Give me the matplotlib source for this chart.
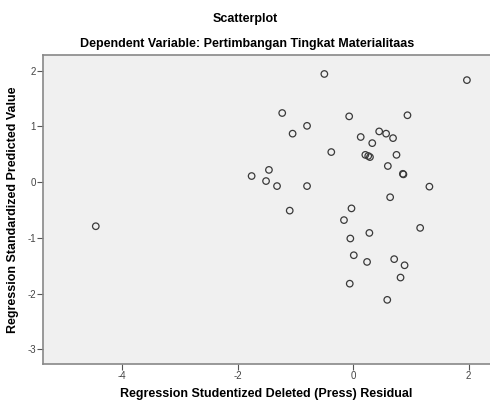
import matplotlib
matplotlib.use("Agg")
import matplotlib.pyplot as plt

residual = [-0.50, 1.97, -1.23, -0.07, 0.94, -0.80, -1.05, 0.45, 0.57, 0.69,
            0.13, 0.33, -0.38, 0.21, 0.26, 0.29, 0.75, 0.60, 0.86, 0.87,
            -1.46, -1.76, -1.51, -1.32, -0.80, 1.32, 0.64, -1.10, -0.03, -0.16,
            1.16, 0.28, -0.05, 0.01, 0.24, 0.71, 0.89, 0.82, -0.06, 0.59,
            -4.46]
predicted = [1.94, 1.83, 1.24, 1.18, 1.20, 1.01, 0.87, 0.91, 0.87, 0.79,
             0.81, 0.70, 0.54, 0.49, 0.47, 0.45, 0.49, 0.29, 0.15, 0.14,
             0.22, 0.11, 0.02, -0.07, -0.07, -0.08, -0.27, -0.51, -0.47, -0.68,
             -0.82, -0.91, -1.01, -1.31, -1.43, -1.38, -1.49, -1.71, -1.82, -2.11,
             -0.79]
xticks = [-4, -2, 0, 2]
yticks = [-3, -2, -1, 0, 1, 2]

plt.rcParams['font.family'] = ['Liberation Sans', 'DejaVu Sans']

fig = plt.figure(figsize=(4.9, 4.01), dpi=100)
ax = fig.add_axes([0.0871, 0.0923, 0.9129, 0.7705])
ax.set_facecolor('#f0f0f0')
ax.scatter(residual, predicted, s=22, facecolors='none', edgecolors='#3a3a3a', linewidths=0.9)
ax.set_xlim(-5.38, 2.37)
ax.set_ylim(-3.26, 2.28)
ax.set_xticks(xticks)
ax.set_yticks(yticks)
ax.set_xticklabels([str(t) for t in xticks])
ax.set_yticklabels([str(t) for t in yticks])
ax.tick_params(direction='out', length=4, width=0.8, color='#555555', labelsize=7, labelcolor='#444444', pad=1)
for side in ['left', 'bottom', 'top']:
    ax.spines[side].set_color('#888888')
    ax.spines[side].set_linewidth(1.2)
ax.spines['right'].set_visible(False)
ax.set_xlabel('Regression Studentized Deleted (Press) Residual', fontsize=9, fontweight='bold', labelpad=5)
ax.set_ylabel('Regression Standardized Predicted Value', fontsize=9, fontweight='bold', labelpad=6)
fig.text(0.5 + 0.0, 1 - 19/401, 'Scatterplot', ha='center', va='center', fontsize=9, fontweight='bold')
fig.text(0.505, 1 - 44/401, 'Dependent Variable: Pertimbangan Tingkat Materialitaas', ha='center', va='center', fontsize=9, fontweight='bold')
fig.savefig('out.png', dpi=100, facecolor='white')
